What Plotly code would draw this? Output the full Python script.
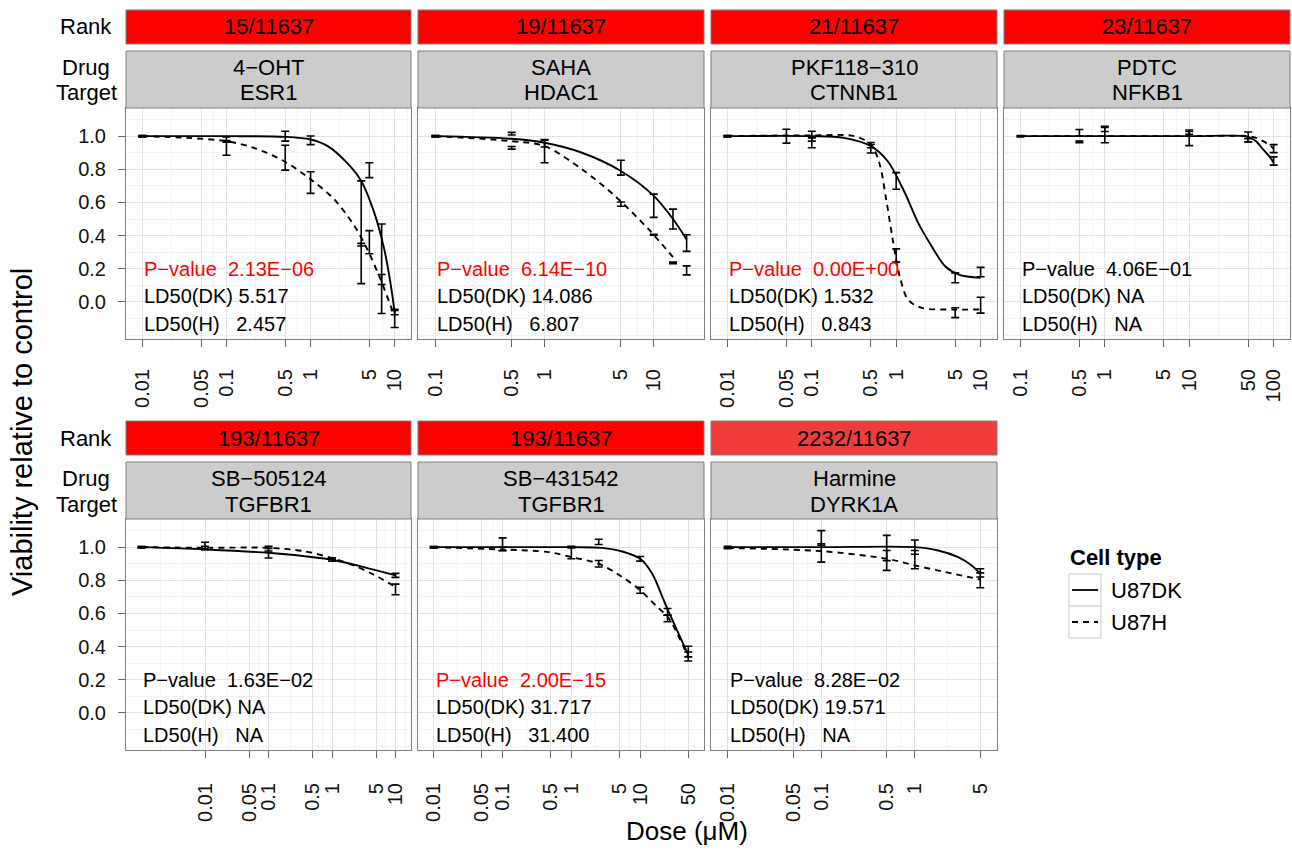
import math
import plotly.graph_objects as go

W, H = 1292, 851
FONT = "Liberation Sans, Arial, Helvetica, sans-serif"

# ---------------- data ----------------
RANKS = ["15/11637", "19/11637", "21/11637", "23/11637", "193/11637", "193/11637", "2232/11637"]
DRUGS = ["4−OHT", "SAHA", "PKF118−310", "PDTC", "SB−505124", "SB−431542", "Harmine"]
TARGETS = ["ESR1", "HDAC1", "CTNNB1", "NFKB1", "TGFBR1", "TGFBR1", "DYRK1A"]
PVALUES = ["2.13E−06", "6.14E−10", "0.00E+00", "4.06E−01", "1.63E−02", "2.00E−15", "8.28E−02"]
PVAL_SIG = [True, True, True, False, False, True, False]
LD50_DK = ["5.517", "14.086", "1.532", "NA", "NA", "31.717", "19.571"]
LD50_H = ["2.457", "6.807", "0.843", "NA", "NA", "31.400", "NA"]

DOSE_TICKS = [
    [0.01, 0.05, 0.1, 0.5, 1, 5, 10],
    [0.1, 0.5, 1, 5, 10],
    [0.01, 0.05, 0.1, 0.5, 1, 5, 10],
    [0.1, 0.5, 1, 5, 10, 50, 100],
    [0.01, 0.05, 0.1, 0.5, 1, 5, 10],
    [0.01, 0.05, 0.1, 0.5, 1, 5, 10, 50],
    [0.01, 0.05, 0.1, 0.5, 1, 5],
]
VIAB_TICKS = [0.0, 0.2, 0.4, 0.6, 0.8, 1.0]

# measured viability (mean, sd) - U87DK
DK_DOSE = [
    [0.01, 0.1, 0.5, 1, 4, 5, 7, 10],
    [0.1, 0.5, 1, 5, 10, 15, 20],
    [0.01, 0.05, 0.1, 0.5, 1, 5, 10],
    [0.1, 0.5, 1, 10, 50, 100],
    [0.001, 0.01, 0.1, 1, 10],
    [0.01, 0.1, 1, 2.5, 10, 25, 50],
    [0.01, 0.1, 0.5, 1, 5],
]
DK_MEAN = [
    [1.0, 0.968, 1.0, 0.975, 0.42, 0.795, 0.2, -0.065],
    [1.0, 1.015, 0.955, 0.81, 0.58, 0.5, 0.355],
    [1.0, 1.0, 0.98, 0.93, 0.73, 0.145, 0.18],
    [1.0, 1.02, 1.04, 1.02, 0.995, 0.85],
    [1.0, 1.01, 0.97, 0.925, 0.83],
    [1.0, 1.017, 1.0, 1.032, 0.93, 0.61, 0.37],
    [1.0, 1.056, 0.995, 1.0, 0.845],
]
DK_SD = [
    [0.004, 0.005, 0.03, 0.026, 0.31, 0.045, 0.27, 0.013],
    [0.004, 0.008, 0.02, 0.045, 0.07, 0.06, 0.05],
    [0.004, 0.042, 0.05, 0.032, 0.05, 0.03, 0.028],
    [0.004, 0.02, 0.012, 0.008, 0.03, 0.025],
    [0.004, 0.02, 0.035, 0.01, 0.012],
    [0.004, 0.039, 0.005, 0.016, 0.014, 0.02, 0.032],
    [0.005, 0.044, 0.076, 0.043, 0.025],
]
# measured viability (mean, sd) - U87H
H_DOSE = [
    [0.01, 0.1, 0.5, 1, 4, 5, 7, 10],
    [0.1, 0.5, 1, 5, 10, 15, 20],
    [0.01, 0.1, 0.5, 1, 5, 10],
    [0.5, 1, 10, 50, 100],
    [0.001, 0.01, 0.1, 1, 10],
    [0.01, 0.1, 1, 2.5, 10, 25, 50],
    [0.01, 0.1, 0.5, 1, 5],
]
H_MEAN = [
    [1.0, 0.94, 0.87, 0.72, 0.345, 0.36, 0.135, -0.1],
    [1.0, 0.93, 0.91, 0.59, 0.405, 0.235, 0.19],
    [1.0, 0.98, 0.94, 0.28, -0.065, -0.02],
    [0.965, 1.01, 0.99, 0.975, 0.925],
    [1.0, 0.995, 0.985, 0.93, 0.745],
    [1.0, 0.99, 0.965, 0.9, 0.74, 0.57, 0.34],
    [0.995, 0.965, 0.92, 0.925, 0.8],
]
H_SD = [
    [0.004, 0.055, 0.075, 0.065, 0.008, 0.07, 0.03, 0.055],
    [0.004, 0.008, 0.07, 0.013, 0.003, 0.005, 0.027],
    [0.004, 0.01, 0.01, 0.04, 0.03, 0.048],
    [0.005, 0.05, 0.047, 0.01, 0.024],
    [0.004, 0.01, 0.008, 0.006, 0.032],
    [0.004, 0.01, 0.035, 0.02, 0.018, 0.02, 0.027],
    [0.004, 0.055, 0.06, 0.055, 0.045],
]

# fitted curves
DK_FIT_DOSE = [
    [0.01, 0.1, 0.5, 1, 1.6, 2.7, 4, 5.7, 7.5, 9, 10],
    [0.1, 0.5, 1, 2.2, 5, 10, 15, 20],
    [0.01, 0.1, 0.24, 0.5, 0.79, 1.26, 1.82, 2.63, 3.8, 5.5, 10],
    [0.1, 1, 10, 50, 62, 75, 90, 100],
    [0.001, 0.01, 0.1, 0.36, 1, 3.16, 10],
    [0.01, 1, 2.8, 5.5, 10, 15, 21, 26, 36, 50],
    [0.01, 0.1, 1, 1.78, 2.9, 4.05, 5],
]
DK_FIT_VIAB = [
    [1.0, 1.0, 0.996, 0.98, 0.94, 0.84, 0.73, 0.54, 0.32, 0.1, -0.065],
    [1.0, 0.984, 0.96, 0.9, 0.79, 0.64, 0.5, 0.376],
    [1.0, 1.0, 0.99, 0.94, 0.85, 0.66, 0.477, 0.336, 0.215, 0.165, 0.145],
    [1.0, 1.0, 1.0, 0.996, 0.97, 0.92, 0.875, 0.84],
    [1.0, 0.986, 0.966, 0.946, 0.924, 0.88, 0.83],
    [1.0, 1.0, 0.996, 0.974, 0.93, 0.84, 0.7, 0.61, 0.48, 0.35],
    [1.0, 1.0, 1.0, 0.98, 0.94, 0.89, 0.84],
]
H_FIT_DOSE = [
    [0.01, 0.034, 0.1, 0.21, 0.48, 1, 1.9, 3.3, 4.7, 6.8, 10],
    [0.1, 0.5, 1, 2.2, 4.4, 9, 15],
    [0.01, 0.1, 0.32, 0.5, 0.63, 0.76, 0.91, 1.1, 1.38, 2, 5, 10],
    [0.1, 1, 10, 50, 62, 75, 90, 100],
    [0.001, 0.01, 0.1, 0.36, 1, 2.2, 4.5, 10],
    [0.01, 0.1, 0.47, 1, 2.5, 5.5, 10, 16.7, 26, 50],
    [0.01, 0.1, 0.5, 1, 2.1, 5],
]
H_FIT_VIAB = [
    [1.0, 0.99, 0.97, 0.93, 0.85, 0.74, 0.62, 0.46, 0.32, 0.135, -0.09],
    [1.0, 0.97, 0.94, 0.8, 0.64, 0.437, 0.27],
    [1.0, 1.005, 1.0, 0.95, 0.84, 0.62, 0.376, 0.155, 0.014, -0.036, -0.046, -0.046],
    [1.0, 1.0, 1.0, 1.0, 0.99, 0.97, 0.945, 0.925],
    [1.0, 0.996, 0.996, 0.976, 0.934, 0.89, 0.835, 0.76],
    [1.0, 0.986, 0.97, 0.94, 0.9, 0.82, 0.74, 0.65, 0.57, 0.337],
    [0.995, 0.976, 0.93, 0.89, 0.85, 0.805],
]

# ---------------- layout / style ----------------
RANK_FILL = ["#FF0000"] * 6 + ["#F23C3C"]
COL_X = [(126, 411), (418, 704), (711, 997), (1004, 1290)]
ROW_RANK = [(10, 44), (421, 455)]
ROW_DRUG = [(51, 108), (462, 519)]
ROW_PLOT = [(108, 339), (519, 750)]
Y_RANGE = [-0.224, 1.17]
GRID_MAJOR = "#E3E3E3"
GRID_MINOR = "#F3F3F3"
BORDER = "#7F7F7F"
NB = "\u00a0"


def px(xp):
    return xp / W


def py(yp):
    return 1 - yp / H


def fmt(v):
    return ("%g" % v)


def minor_vals(ticks):
    lg = [math.log10(t) for t in ticks]
    ext = [lg[0] - (lg[1] - lg[0])] + lg + [lg[-1] + (lg[-1] - lg[-2])]
    out = []
    for a, b in zip(ext[:-1], ext[1:]):
        out.append(10 ** ((a + b) / 2))
    out.append(10 ** ext[0])
    out.append(10 ** ext[-1])
    return out


def label(text, xp, yp, size=22, color="black", xanchor="center", **kw):
    return dict(text=text, x=px(xp), y=py(yp), xref="paper", yref="paper",
                xanchor=xanchor, yanchor="middle", showarrow=False,
                font=dict(size=size, color=color, family=FONT), **kw)


fig = go.Figure()
layout = dict(
    width=W, height=H, margin=dict(l=0, r=0, t=0, b=0, autoexpand=False),
    paper_bgcolor="white", plot_bgcolor="white", showlegend=False,
    font=dict(family=FONT, color="black"),
)
shapes = []
annotations = []

for i in range(7):
    row = 0 if i < 4 else 1
    col = i if i < 4 else i - 4
    x0, x1 = COL_X[col]
    p0, p1 = ROW_PLOT[row]
    sfx = "" if i == 0 else str(i + 1)
    xa, ya = "x" + sfx, "y" + sfx

    all_d = DK_DOSE[i] + H_DOSE[i]
    lo, hi = math.log10(min(all_d)), math.log10(max(all_d))
    pad = 0.05 * (hi - lo + 0.08) + 0.04

    layout["xaxis" + sfx] = dict(
        domain=[px(x0), px(x1)], anchor=ya, type="log",
        range=[lo - pad, hi + pad],
        tickvals=DOSE_TICKS[i], ticktext=[fmt(t) for t in DOSE_TICKS[i]],
        tickangle=-90, ticks="outside", ticklen=7, tickcolor="#666666", tickwidth=1,
        tickfont=dict(size=20, color="#111111", family=FONT),
        ticklabelstandoff=14 if row == 0 else 17,
        showgrid=True, gridcolor=GRID_MAJOR, gridwidth=1,
        minor=dict(tickvals=minor_vals(DOSE_TICKS[i]), showgrid=True,
                   gridcolor=GRID_MINOR, gridwidth=1, ticks=""),
        showline=True, mirror=True, linecolor=BORDER, linewidth=1,
        zeroline=False, fixedrange=True,
    )
    first_col = col == 0
    layout["yaxis" + sfx] = dict(
        domain=[py(p1), py(p0)], anchor=xa, range=Y_RANGE,
        tickvals=VIAB_TICKS, ticktext=["%.1f" % v for v in VIAB_TICKS],
        showticklabels=first_col, ticks="outside" if first_col else "",
        ticklen=7, tickcolor="#666666",
        tickfont=dict(size=20, color="#111111", family=FONT),
        ticklabelstandoff=8,
        showgrid=True, gridcolor=GRID_MAJOR, gridwidth=1,
        minor=dict(tickvals=[-0.2, -0.1, 0.1, 0.3, 0.5, 0.7, 0.9, 1.1], showgrid=True,
                   gridcolor=GRID_MINOR, gridwidth=1, ticks=""),
        showline=True, mirror=True, linecolor=BORDER, linewidth=1,
        zeroline=False, fixedrange=True,
    )

    # fitted curves
    fig.add_trace(go.Scatter(x=DK_FIT_DOSE[i], y=DK_FIT_VIAB[i], mode="lines",
                             line=dict(color="black", width=1.9, shape="spline", smoothing=0.9),
                             xaxis=xa, yaxis=ya, hoverinfo="skip"))
    fig.add_trace(go.Scatter(x=H_FIT_DOSE[i], y=H_FIT_VIAB[i], mode="lines",
                             line=dict(color="black", width=1.9, shape="spline", smoothing=0.9,
                                       dash="6px,5px"),
                             xaxis=xa, yaxis=ya, hoverinfo="skip"))
    # error bars
    for d, m, s in ((DK_DOSE[i], DK_MEAN[i], DK_SD[i]), (H_DOSE[i], H_MEAN[i], H_SD[i])):
        fig.add_trace(go.Scatter(x=d, y=m, mode="markers",
                                 marker=dict(size=2, color="rgba(0,0,0,0)"),
                                 error_y=dict(type="data", array=s, visible=True, color="black",
                                              thickness=1.6, width=4),
                                 xaxis=xa, yaxis=ya, hoverinfo="skip"))

    # strips
    r0, r1 = ROW_RANK[row]
    shapes.append(dict(type="rect", xref="paper", yref="paper", x0=px(x0), x1=px(x1),
                       y0=py(r1), y1=py(r0), fillcolor=RANK_FILL[i],
                       line=dict(color=BORDER, width=1), layer="above"))
    d0, d1 = ROW_DRUG[row]
    shapes.append(dict(type="rect", xref="paper", yref="paper", x0=px(x0), x1=px(x1),
                       y0=py(d1), y1=py(d0), fillcolor="#CCCCCC",
                       line=dict(color=BORDER, width=1), layer="above"))
    xc = (x0 + x1) / 2
    annotations.append(label(RANKS[i], xc, (r0 + r1) / 2))
    annotations.append(label(DRUGS[i], xc, d0 + 16))
    annotations.append(label(TARGETS[i], xc, d0 + 42))

    # statistics text
    tx = lo
    pcol = "#FF0000" if PVAL_SIG[i] else "black"
    for txt, yy, c in (("P−value" + NB * 2 + PVALUES[i], 0.2, pcol),
                       ("LD50(DK)" + NB + LD50_DK[i], 0.035, "black"),
                       ("LD50(H)" + NB * 3 + LD50_H[i], -0.135, "black")):
        annotations.append(dict(text=txt, x=tx, y=yy, xref=xa, yref=ya, xanchor="left",
                                yanchor="middle", showarrow=False,
                                font=dict(size=20, color=c, family=FONT)))

# row labels
for row in range(2):
    r0, r1 = ROW_RANK[row]
    d0, d1 = ROW_DRUG[row]
    annotations.append(label("Rank", 86, (r0 + r1) / 2))
    annotations.append(label("Drug", 86, d0 + 16))
    annotations.append(label("Target", 86, d0 + 42))

# axis titles
annotations.append(label("Viability relative to control", 22, 432, size=29, textangle=-90))
annotations.append(label("Dose (μM)", 687, 831, size=26))

# legend
annotations.append(label("<b>Cell type</b>", 1068, 557, xanchor="left"))
for lab, dash, yc in (("U87DK", "solid", 590), ("U87H", "6px,5px", 622)):
    shapes.append(dict(type="rect", xref="paper", yref="paper", x0=px(1069), x1=px(1101),
                       y0=py(yc + 16), y1=py(yc - 16), fillcolor="white",
                       line=dict(color="#CCCCCC", width=1)))
    shapes.append(dict(type="line", xref="paper", yref="paper", x0=px(1072), x1=px(1098),
                       y0=py(yc), y1=py(yc), line=dict(color="black", width=1.8, dash=dash)))
    annotations.append(label(lab, 1109, yc, xanchor="left"))

layout["shapes"] = shapes
layout["annotations"] = annotations
fig.update_layout(**layout)
fig.write_html(
    "out.html",
    config={"displayModeBar": False, "staticPlot": True},
    post_script="document.body.style.margin='0';document.body.style.padding='0';"
                "document.body.style.overflow='hidden';",
)
